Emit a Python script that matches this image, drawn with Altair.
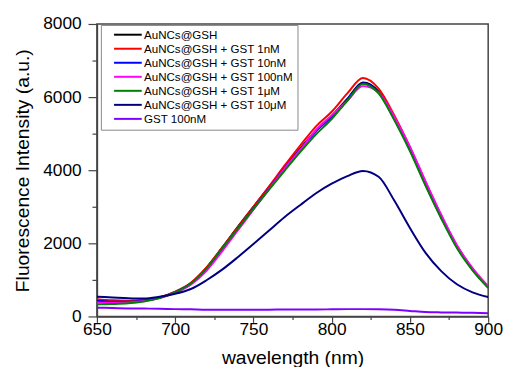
import altair as alt
import pandas as pd

wavelength = list(range(650, 901, 10))

series_names = [
    "AuNCs@GSH",
    "AuNCs@GSH + GST 1nM",
    "AuNCs@GSH + GST 10nM",
    "AuNCs@GSH + GST 100nM",
    "AuNCs@GSH + GST 1μM",
    "AuNCs@GSH + GST 10μM",
    "GST 100nM",
]
series_colors = ["#000000", "#ff0000", "#0000ff", "#ff00ff", "#008000", "#000080", "#8000ff"]

black = [450, 420, 410, 440, 520, 670, 910, 1330, 1880, 2450, 3000, 3540, 4080, 4600, 5080, 5480, 5950, 6400, 6150, 5420, 4580, 3620, 2720, 1910, 1290, 800]
red = [470, 440, 430, 450, 520, 680, 920, 1340, 1880, 2440, 3000, 3560, 4130, 4680, 5200, 5600, 6100, 6520, 6230, 5500, 4640, 3680, 2760, 1940, 1310, 820]
blue = [420, 400, 400, 430, 510, 660, 890, 1290, 1840, 2390, 2950, 3500, 4060, 4570, 5060, 5470, 5940, 6380, 6130, 5400, 4570, 3610, 2710, 1900, 1280, 790]
magenta = [380, 370, 380, 420, 500, 650, 870, 1250, 1780, 2350, 2920, 3480, 4050, 4560, 5100, 5500, 5900, 6300, 6120, 5450, 4640, 3690, 2780, 1950, 1320, 820]
green = [330, 340, 360, 410, 500, 660, 900, 1310, 1860, 2400, 2940, 3470, 3990, 4500, 4980, 5400, 5900, 6360, 6100, 5370, 4520, 3570, 2680, 1870, 1260, 780]
navy = [540, 520, 500, 490, 540, 620, 750, 990, 1280, 1620, 1980, 2350, 2720, 3050, 3370, 3630, 3840, 3980, 3820, 3170, 2420, 1740, 1240, 880, 660, 530]
purple = [240, 230, 220, 215, 210, 200, 195, 185, 185, 185, 185, 185, 190, 190, 190, 195, 200, 200, 195, 180, 150, 120, 110, 105, 100, 90]

all_series = [black, red, blue, magenta, green, navy, purple]

rows = []
for order, (name, vals) in enumerate(zip(series_names, all_series)):
    for w, v in zip(wavelength, vals):
        rows.append({"wavelength": w, "intensity": v, "series": name, "order": order})
df = pd.DataFrame(rows)

FONT = "Liberation Sans"
AXC = "#444444"

x_axis = alt.Axis(
    values=list(range(650, 901, 25)),
    labelExpr="datum.value % 50 === 0 ? datum.label : ''",
    tickSize={"condition": {"test": "datum.value % 50 === 0", "value": 6}, "value": 3},
    grid=False, labelFontSize=17.5, labelFont=FONT, labelColor="#000",
    titleFontSize=19.5, titleFont=FONT, titleFontWeight="normal", titleColor="#000",
    domainColor=AXC, domainWidth=1.5, tickColor=AXC, tickWidth=1.2,
    labelPadding=-2, titlePadding=11, labelFlush=False, labelOverlap=False,
)
y_axis = alt.Axis(
    values=list(range(0, 8001, 1000)),
    labelExpr="datum.value % 2000 === 0 ? datum.label : ''",
    tickSize={"condition": {"test": "datum.value % 2000 === 0", "value": 9}, "value": 5},
    grid=False, labelFontSize=17.5, labelFont=FONT, labelColor="#000",
    titleFontSize=19.5, titleFont=FONT, titleFontWeight="normal", titleColor="#000",
    domainColor=AXC, domainWidth=1.5, tickColor=AXC, tickWidth=1.2,
    labelPadding=7, titlePadding=10, labelFlush=False, labelOverlap=False, format="d",
)

chart = alt.Chart(df).mark_line(strokeWidth=2, interpolate="monotone", clip=True).encode(
    x=alt.X("wavelength:Q", title="wavelength (nm)",
            scale=alt.Scale(domain=[650, 900], nice=False, zero=False), axis=x_axis),
    y=alt.Y("intensity:Q", title="Fluorescence Intensity (a.u.)",
            scale=alt.Scale(domain=[0, 8000], nice=False), axis=y_axis),
    color=alt.Color("series:N", sort=series_names,
                    scale=alt.Scale(domain=series_names, range=series_colors),
                    legend=alt.Legend(
                        orient="none", legendX=4, legendY=1, title=None,
                        symbolType="M-4,0H4", symbolSize=49, symbolStrokeWidth=2,
                        rowPadding=1.2, labelFontSize=11.7, labelFont=FONT, labelColor="#000",
                        strokeColor="#888888", padding=4, fillColor="#ffffff",
                        labelLimit=300, labelOffset=10.5, symbolOffset=17.5,
                    )),
    order=alt.Order("order:Q"),
).properties(
    width=396, height=296,
    autosize=alt.AutoSizeParams(type="none"),
    padding={"left": 90, "top": 14, "right": 15, "bottom": 49},
).configure_view(stroke=AXC, strokeWidth=1.5)

chart.save("out.html", embed_options={"renderer": "svg", "actions": False})
